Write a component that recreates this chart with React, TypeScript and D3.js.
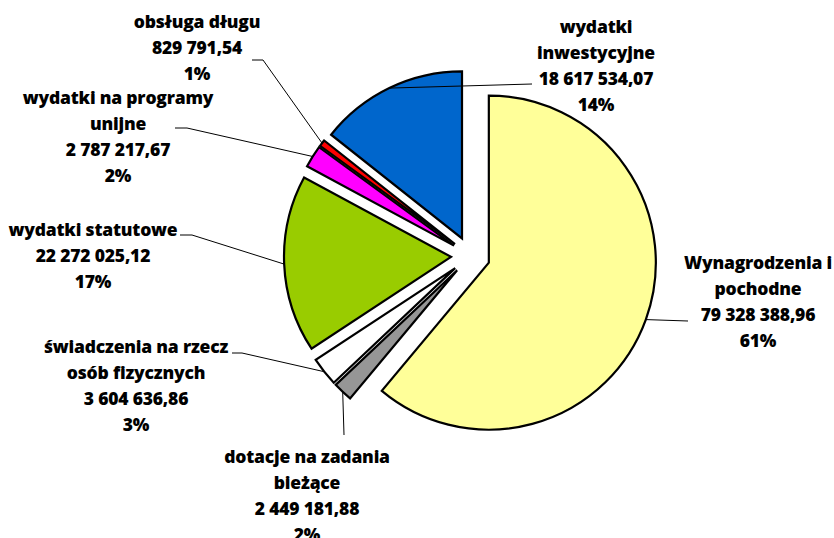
import React from 'react';
import * as d3 from 'd3';

const categories = [
  'Wynagrodzenia i pochodne',
  'dotacje na zadania bieżące',
  'świadczenia na rzecz osób fizycznych',
  'wydatki statutowe',
  'wydatki na programy unijne',
  'obsługa długu',
  'wydatki inwestycyjne',
];
const values = [79328388.96, 2449181.88, 3604636.86, 22272025.12, 2787217.67, 829791.54, 18617534.07];
const valueLabels = ['79 328 388,96', '2 449 181,88', '3 604 636,86', '22 272 025,12', '2 787 217,67', '829 791,54', '18 617 534,07'];
const percentLabels = ['61%', '2%', '3%', '17%', '2%', '1%', '14%'];
// category names as they wrap in the labels
const nameLines = [
  ['Wynagrodzenia i', 'pochodne'],
  ['dotacje na zadania', 'bieżące'],
  ['świadczenia na rzecz', 'osób fizycznych'],
  ['wydatki statutowe'],
  ['wydatki na programy', 'unijne'],
  ['obsługa długu'],
  ['wydatki', 'inwestycyjne'],
];

const colors = ['#FFFF99', '#969696', '#FFFFFF', '#99CC00', '#FF00FF', '#FF0000', '#0066CC'];

// label layout: centre x, centre y of first line, leader elbow (x, y)
const labelLayout = [
  { x: 758, y: 263, lx: 688, ly: 321 },
  { x: 307, y: 457, lx: 344, ly: 435 },
  { x: 136, y: 347, lx: 242, ly: 353 },
  { x: 93, y: 230, lx: 192, ly: 235 },
  { x: 118, y: 98, lx: 187, ly: 128 },
  { x: 197, y: 22, lx: 263, ly: 60 },
  { x: 596, y: 27, lx: 532, ly: 84 },
];
const leaderStart = [688, null, 232, 180, 175, 252, 532];

const W = 834;
const H = 538;
const cx = 470.5;
const cy = 256;
const radius = 167;
const explode = 19.5;
const lineH = 26;

export default function App() {
  const pie = d3.pie<number>().sort(null).value((d) => d);
  const arcs = pie(values);
  const arc = d3.arc<d3.PieArcDatum<number>>().innerRadius(0).outerRadius(radius);

  return (
    <svg width={W} height={H} style={{ position: 'absolute', left: 0, top: 0, background: '#fff' }}>
      {arcs.map((a, i) => {
        const mid = (a.startAngle + a.endAngle) / 2;
        const dx = Math.sin(mid) * explode;
        const dy = -Math.cos(mid) * explode;
        return (
          <path
            key={categories[i]}
            d={arc(a) || ''}
            transform={`translate(${cx + dx},${cy + dy})`}
            fill={colors[i]}
            stroke="#000"
            strokeWidth={2.2}
            strokeLinejoin="miter"
          />
        );
      })}
      {arcs.map((a, i) => {
        const mid = (a.startAngle + a.endAngle) / 2;
        const ex = cx + Math.sin(mid) * (radius + explode);
        const ey = cy - Math.cos(mid) * (radius + explode);
        const L = labelLayout[i];
        const s = leaderStart[i];
        const pts: [number, number][] = [];
        if (s !== null) pts.push([s, L.ly]);
        pts.push([L.lx, L.ly]);
        pts.push([ex, ey]);
        return (
          <path
            key={'l' + i}
            d={d3.line()(pts) || ''}
            fill="none"
            stroke="#000"
            strokeWidth={1}
          />
        );
      })}
      {arcs.map((a, i) => {
        const L = labelLayout[i];
        const lines = [...nameLines[i], valueLabels[i], percentLabels[i]];
        return (
          <text
            key={'t' + i}
            x={L.x}
            y={L.y}
            textAnchor="middle"
            fontFamily="'Open Sans', sans-serif"
            fontWeight={800}
            fontSize={17.5}
            letterSpacing={-0.2}
            fill="#000"
          >
            {lines.map((t, k) => (
              <tspan key={k} x={L.x} y={L.y + k * lineH} dy="0.35em">
                {t}
              </tspan>
            ))}
          </text>
        );
      })}
    </svg>
  );
}
